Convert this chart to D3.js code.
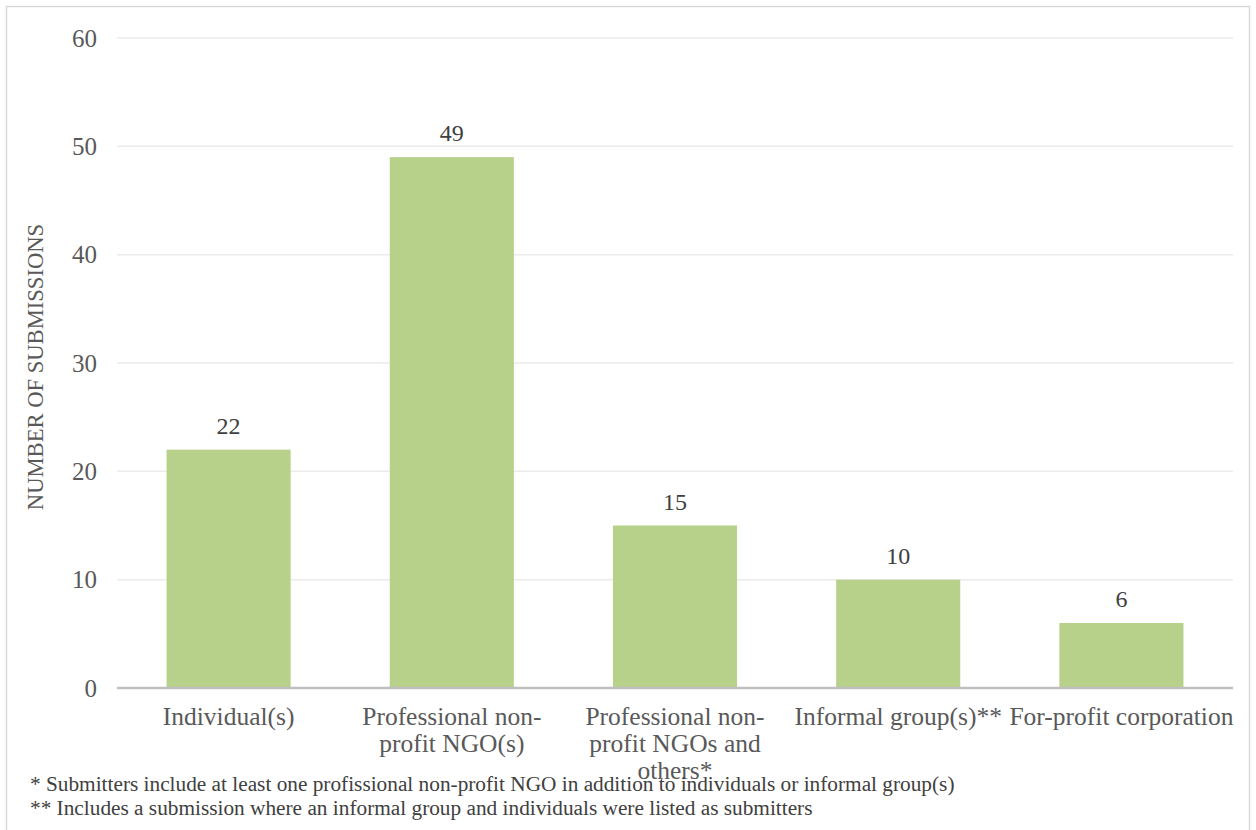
<!DOCTYPE html>
<html>
<head>
<meta charset="utf-8">
<script src="https://cdn.jsdelivr.net/npm/d3@7"></script>
<style>
html,body{margin:0;padding:0;background:#fff;}
svg{display:block;}
text{font-family:"Liberation Serif","Times New Roman",serif;}
</style>
</head>
<body>
<svg id="chart" width="1256" height="830"></svg>
<script>
const categories = [
  ["Individual(s)"],
  ["Professional non-", "profit NGO(s)"],
  ["Professional non-", "profit NGOs and", "others*"],
  ["Informal group(s)**"],
  ["For-profit corporation"]
];
const values = [22, 49, 15, 10, 6];
const yTicks = [0, 10, 20, 30, 40, 50, 60];
const yTitle = "NUMBER OF SUBMISSIONS";
const footnotes = [
  "* Submitters include at least one profissional non-profit NGO in addition to individuals or informal group(s)",
  "** Includes a submission where an informal group and individuals were listed as submitters"
];

const serif = '"Liberation Serif","Times New Roman",serif';
const svg = d3.select("#chart");
const mLeft = 117, mRight = 1233, mTop = 38, mBottom = 688;

// border
svg.append("rect").attr("x", 6.5).attr("y", 6.5).attr("width", 1243).attr("height", 840)
  .attr("fill", "none").attr("stroke", "#d9d9d9").attr("stroke-width", 1.5);

const x = d3.scaleBand().domain(d3.range(values.length)).range([mLeft, mRight])
  .paddingInner(0.444).paddingOuter(0.222);
const y = d3.scaleLinear().domain([0, 60]).range([mBottom, mTop]);

// gridlines
svg.append("g").selectAll("line").data(yTicks.filter(d => d > 0)).join("line")
  .attr("x1", mLeft).attr("x2", mRight)
  .attr("y1", d => y(d)).attr("y2", d => y(d))
  .attr("stroke", "#ebebeb").attr("stroke-width", 1.5);

// y axis tick labels
const yAxis = d3.axisLeft(y).tickValues(yTicks).tickSize(0).tickPadding(20).tickFormat(d3.format("d"));
const gy = svg.append("g").attr("transform", `translate(${mLeft},0)`).call(yAxis);
gy.select(".domain").remove();
gy.selectAll("text").attr("font-size", 25).attr("fill", "#595959").attr("font-family", serif);

// bars
svg.append("g").selectAll("rect").data(values).join("rect")
  .attr("x", (d, i) => x(i)).attr("width", x.bandwidth())
  .attr("y", d => y(d)).attr("height", d => y(0) - y(d))
  .attr("fill", "#b7d18a");

// data labels
svg.append("g").selectAll("text").data(values).join("text")
  .attr("x", (d, i) => x(i) + x.bandwidth() / 2)
  .attr("y", d => y(d) - 16)
  .attr("text-anchor", "middle").attr("font-size", 24).attr("fill", "#404040")
  .attr("font-family", serif)
  .text(d => d);

// baseline axis
svg.append("line").attr("x1", mLeft).attr("x2", mRight).attr("y1", y(0)).attr("y2", y(0))
  .attr("stroke", "#bfbfbf").attr("stroke-width", 2.5);

// category labels
const cat = svg.append("g").selectAll("text").data(categories).join("text")
  .attr("text-anchor", "middle").attr("font-size", 25.5).attr("fill", "#595959")
  .attr("font-family", serif)
  .attr("transform", (d, i) => `translate(${x(i) + x.bandwidth() / 2},${y(0) + 37})`);
cat.selectAll("tspan").data(d => d).join("tspan")
  .attr("x", 0).attr("dy", (d, i) => i === 0 ? 0 : 27).text(d => d);

// y title
svg.append("text").attr("transform", `translate(43,${(mTop + mBottom) / 2 + 4}) rotate(-90)`)
  .attr("text-anchor", "middle").attr("font-size", 22.6).attr("fill", "#595959")
  .attr("font-family", serif)
  .text(yTitle);

// footnotes
svg.append("g").selectAll("text").data(footnotes).join("text")
  .attr("x", 30).attr("y", (d, i) => 791 + i * 24)
  .attr("font-size", 21.3).attr("fill", "#404040")
  .attr("font-family", serif)
  .text(d => d);
</script>
</body>
</html>
